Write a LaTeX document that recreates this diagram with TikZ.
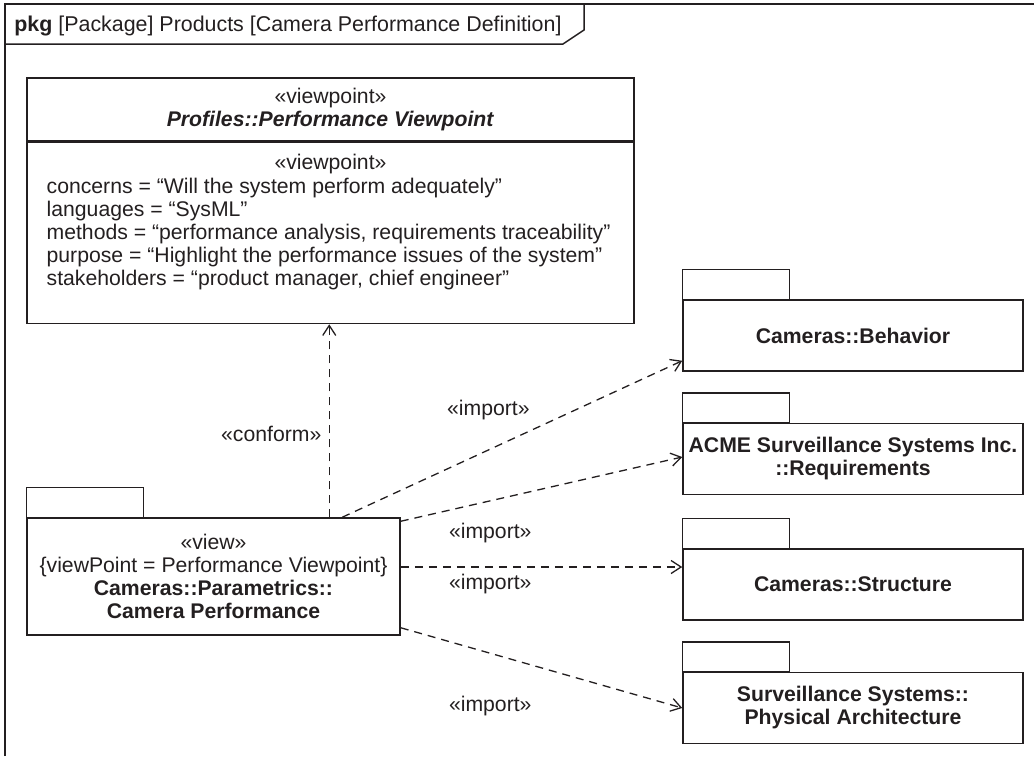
\documentclass[tikz,border=0pt]{standalone}
\usepackage{fontspec}
\setmainfont{Liberation Sans}
\usepackage{tikz}
\usetikzlibrary{arrows.meta, positioning}
\definecolor{ink}{RGB}{35,31,32}
\AtBeginDocument{\fontsize{10.6pt}{11.5pt}\selectfont}

\begin{document}
\begin{tikzpicture}[x=0.5pt, y=-0.5pt, color=ink,
    pkg/.style={draw, line width=0.75pt, inner sep=0pt, align=center},
    pkgname/.style={pkg, font=\bfseries, minimum width=170pt, minimum height=35.5pt},
    tab/.style={draw, line width=0.75pt},
    dep/.style={dash pattern=on 4pt off 3pt, line width=0.65pt,
        -{Straight Barb[length=5pt, width=6.5pt]}},
    stereo/.style={inner sep=0pt}]
    \useasboundingbox (0,0) rectangle (1034,756);

    % Frame with its heading tab
    \draw[line width=1pt] (5,756) -- (5,4) -- (1034,4);
    \draw[line width=0.75pt] (5,44) -- (563,44) -- (584,30) -- (584,4);
    \node (title) [anchor=west, inner sep=0pt] at (14,26)
        {\fontsize{10.7pt}{11.5pt}\selectfont\textbf{pkg} [Package] Products [Camera Performance Definition]};

    % Viewpoint block: name compartment and attribute compartment
    \node (vphead) [pkg, minimum width=303.5pt, minimum height=31.5pt] at (330.5,109.5)
        {«viewpoint»\\\textbf{\textit{Profiles::Performance Viewpoint}}};
    \node (vpbody) [pkg, minimum width=303.5pt, minimum height=90.5pt, below=0pt of vphead] {};
    \node (vpkw) [stereo, below=6pt of vpbody.north] {«viewpoint»};
    \node (vpattr) [stereo, right=10pt of vpbody.west, yshift=-0.75pt, align=left]
        {concerns = “Will the system perform adequately”\\
         languages = “SysML”\\
         methods = “performance analysis, requirements traceability”\\
         purpose = “Highlight the performance issues of the system”\\
         stakeholders = “product manager, chief engineer”};

    % The view
    \node (view) [pkg, minimum width=186.5pt, minimum height=58.5pt] at (213.5,576.5)
        {«view»\\\{viewPoint = Performance Viewpoint\}\\
         \textbf{Cameras::Parametrics::}\\\textbf{Camera Performance}};

    % Imported packages
    \node (beh) [pkgname] at (853,335.5) {Cameras::Behavior};
    \node (acme) [pkgname, below=25.5pt of beh] {ACME Surveillance Systems Inc.\\::Requirements};
    \node (str) [pkgname, below=26.5pt of acme] {Cameras::Structure};
    \node (phys) [pkgname, below=25.5pt of str] {Surveillance Systems::\\Physical Architecture};

    \foreach \p/\w in {view/117, beh/107, acme/107, str/107, phys/107}
        \draw[tab] (\p.north west) rectangle ++(\w,-30);

    % Dependencies
    \coordinate (cf) at ([xshift=151.5pt]view.north west);
    \draw[dep] (cf) -- (cf |- vpbody.south) node[pos=0.434, xshift=-29pt] {«conform»};

    \draw[dep] ([xshift=158pt]view.north west) -- ([yshift=5.5pt]beh.south west)
        node[pos=0.43, yshift=20pt] {«import»};
    \draw[dep] ([yshift=-2pt]view.north east) -- ([yshift=1pt]acme.west)
        node[pos=0.318, yshift=-16pt] {«import»};
    \coordinate (imp3) at ([yshift=8.75pt]str.west);
    \draw[dep] (view.east |- imp3) -- (imp3)
        node[pos=0.318, yshift=-8.5pt] {«import»};
    \draw[dep] ([yshift=4pt]view.south east) -- (phys.west)
        node[pos=0.318, yshift=-26.5pt] {«import»};
\end{tikzpicture}
\end{document}
